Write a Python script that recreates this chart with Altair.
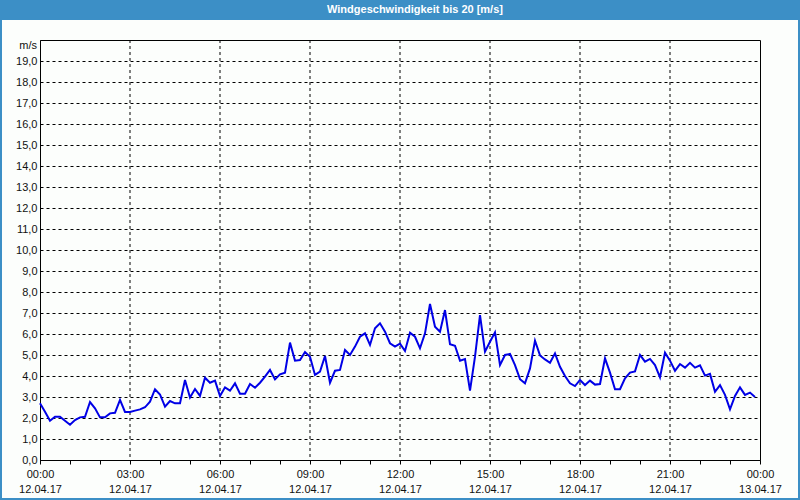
import altair as alt
import pandas as pd

# wind speed in m/s, every 10 minutes from 12.04.17 00:00 to 23:50
speeds = [
    2.70, 2.30, 1.87, 2.06, 2.06, 1.87, 1.68, 1.90, 2.03, 2.06, 2.76, 2.46,
    2.03, 2.03, 2.22, 2.25, 2.86, 2.29, 2.29, 2.35, 2.41, 2.51, 2.78, 3.37,
    3.12, 2.54, 2.81, 2.70, 2.70, 3.81, 2.98, 3.38, 3.05, 3.92, 3.68, 3.78,
    3.05, 3.46, 3.30, 3.65, 3.16, 3.16, 3.62, 3.44, 3.68, 3.97, 4.29, 3.84,
    4.08, 4.16, 5.59, 4.73, 4.76, 5.14, 4.92, 4.05, 4.21, 4.95, 3.68, 4.25,
    4.29, 5.24, 5.00, 5.40, 5.87, 6.03, 5.48, 6.27, 6.51, 6.11, 5.56, 5.40,
    5.54, 5.19, 6.06, 5.87, 5.32, 6.03, 7.43, 6.35, 6.11, 7.14, 5.51, 5.44,
    4.73, 4.81, 3.30, 4.92, 6.90, 5.16, 5.63, 6.08, 4.52, 5.00, 5.05, 4.52,
    3.85, 3.65, 4.36, 5.68, 4.98, 4.79, 4.63, 5.08, 4.44, 4.00, 3.65, 3.52,
    3.81, 3.57, 3.78, 3.59, 3.62, 4.84, 4.16, 3.37, 3.37, 3.89, 4.16, 4.22,
    5.00, 4.68, 4.81, 4.52, 3.94, 5.11, 4.73, 4.25, 4.57, 4.40, 4.63, 4.40,
    4.51, 4.02, 4.10, 3.25, 3.57, 3.10, 2.41, 3.05, 3.46, 3.10, 3.21, 3.00,
]
times = [f"2017-04-12T{(i * 10) // 60:02d}:{(i * 10) % 60:02d}:00" for i in range(len(speeds))]
grid_times = [f"2017-04-12T{h:02d}:00:00" for h in [3, 6, 9, 12, 15, 18, 21]]
y_ticks = list(range(0, 20))
title_text = "Windgeschwindigkeit bis 20 [m/s]"
unit_text = "m/s"

FONT = "Liberation Sans"
BLUE = "#3c8fc6"

df = pd.DataFrame({"time": times, "speed": speeds})
gdf = pd.DataFrame({"time": grid_times})

tick_values = [alt.DateTime(year=2017, month=4, date=12, hours=h) for h in range(24)] + [
    alt.DateTime(year=2017, month=4, date=13, hours=0)
]
x_scale = alt.Scale(
    domain=[alt.DateTime(year=2017, month=4, date=12, hours=0),
            alt.DateTime(year=2017, month=4, date=13, hours=0)],
    nice=False,
)
x_axis = alt.Axis(
    title=None,
    values=tick_values,
    grid=False,
    tickSize=4,
    tickColor="black",
    domainColor="black",
    labelFont=FONT,
    labelFontSize=11,
    labelColor="#111",
    labelLineHeight=15,
    labelPadding=4,
    labelFlush=False,
    labelOverlap=False,
    labelBound=False,
    labelExpr="hours(datum.value) % 3 == 0 ? [timeFormat(datum.value, '%H:%M'), timeFormat(datum.value, '%d.%m.%y')] : ''",
)
y_scale = alt.Scale(domain=[0, 20], nice=False)
y_axis = alt.Axis(
    title=None,
    values=y_ticks,
    ticks=False,
    labelPadding=3,
    domainColor="black",
    grid=True,
    gridColor="black",
    gridDash=[3, 3],
    gridOpacity=1,
    gridWidth=1,
    labelFont=FONT,
    labelFontSize=11,
    labelColor="#111",
    labelExpr="replace(format(datum.value, '.1f'), '.', ',')",
)

one = alt.Data(values=[{"a": 1}])

vgrid = alt.Chart(gdf).mark_rule(color="black", strokeDash=[3, 3], strokeWidth=1).encode(
    x=alt.X("time:T", scale=x_scale, axis=x_axis),
)

line = alt.Chart(df).mark_line(color="#0000e6", strokeWidth=2).encode(
    x=alt.X("time:T", scale=x_scale, axis=x_axis),
    y=alt.Y("speed:Q", scale=y_scale, axis=y_axis),
)

title_bar = alt.Chart(one).mark_rect(color=BLUE).encode(
    x=alt.value(-40), x2=alt.value(760), y=alt.value(-40), y2=alt.value(-20)
)
title_txt = alt.Chart(one).mark_text(
    text=title_text, font=FONT, fontSize=11, fontWeight="bold", color="white",
    align="center", baseline="middle",
).encode(x=alt.value(375), y=alt.value(-30))
frame = alt.Chart(one).mark_rect(fill=None, stroke=BLUE, strokeWidth=2).encode(
    x=alt.value(-39), x2=alt.value(759), y=alt.value(-39), y2=alt.value(459)
)
unit = alt.Chart(one).mark_text(
    text=unit_text, font=FONT, fontSize=11, color="#111", align="right", baseline="middle",
).encode(x=alt.value(-3), y=alt.value(6))

chart = alt.layer(vgrid, line, title_bar, title_txt, frame, unit).properties(
    width=720,
    height=420,
    autosize=alt.AutoSizeParams(type="none"),
    padding={"left": 40, "top": 40, "right": 40, "bottom": 40},
    background="#fcfefc",
).configure_view(stroke="black", strokeWidth=1)

chart.save("out.html", embed_options={"renderer": "svg", "actions": False})
